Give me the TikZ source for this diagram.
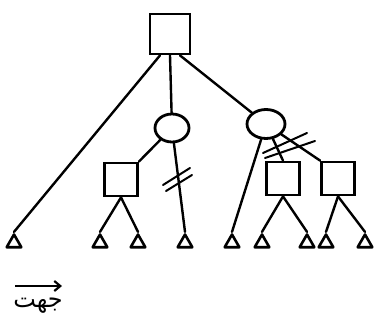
\documentclass[tikz,border=0pt]{standalone}
\usepackage{fontspec}
\usetikzlibrary{shapes.geometric,arrows.meta}
\TeXXeTstate=1
\newfontfamily\arabicfont[Script=Arabic]{DejaVu Sans}
\begin{document}
\begin{tikzpicture}[x=1pt,y=-1pt,
  edge/.style={line width=2.4pt,line cap=round},
  sqbox/.style={draw,line width=2.8pt,minimum size=#1,inner sep=0pt},
  chance/.style={draw,ellipse,line width=2.8pt,inner sep=0pt},
  leaf/.style={draw,regular polygon,regular polygon sides=3,minimum size=17pt,
               inner sep=0pt,line width=2.6pt,line join=round},
  slash/.style={line width=2pt,line cap=round}]
\useasboundingbox (0,0) rectangle (374,320);

% decision and chance nodes
\node[sqbox=40pt] (root) at (170,34) {};
\node[chance,minimum width=34pt,minimum height=28pt] (c1) at (172,128) {};
\node[chance,minimum width=38pt,minimum height=29pt] (c2) at (266,124) {};
\node[sqbox=33pt] (d1) at (121,179.5) {};
\node[sqbox=33pt] (d2) at (283,178.5) {};
\node[sqbox=33pt] (d3) at (338,178.5) {};

% terminal leaves
\foreach \n/\x in {1/14,2/100,3/138,4/185,5/232,6/262,7/307,8/326,9/365}
  \node[leaf] (t\n) at (\x,243) {};

% branches
\draw[edge] ([xshift=-10pt]root.south) -- (t1.corner 1);
\draw[edge] (root.south) -- (c1);
\draw[edge] ([xshift=10pt]root.south) -- (c2);
\draw[edge] (c1) -- (d1.north east);
\draw[edge] (c1) -- (t4.corner 1);
\draw[edge] (d1.south) -- (t2.corner 1);
\draw[edge] (d1.south) -- (t3.corner 1);
\draw[edge] (c2) -- (t5.corner 1);
\draw[edge] (c2) -- (d2.north);
\draw[edge] (c2) -- (d3.north west);
\draw[edge] (d2.south) -- (t6.corner 1);
\draw[edge] (d2.south) -- (t7.corner 1);
\draw[edge] (d3.south) -- (t8.corner 1);
\draw[edge] (d3.south) -- (t9.corner 1);

% pruned branches
\draw[slash] (163,185) -- (190,168);
\draw[slash] (166,191) -- (192,175);
\draw[slash] (263,153) -- (307,133);
\draw[slash] (265,158) -- (315,141);

% direction label
\coordinate (a0) at (15,286);
\coordinate (a1) at (62,286);
\draw[line width=2.2pt,-{Straight Barb[length=6pt,width=10pt]}] (a0) -- (a1);
\node[font=\arabicfont\fontsize{24}{26}\selectfont,inner sep=0pt,anchor=base] (lbl) at (38,307) {\beginR جهت\endR};
\end{tikzpicture}
\end{document}
